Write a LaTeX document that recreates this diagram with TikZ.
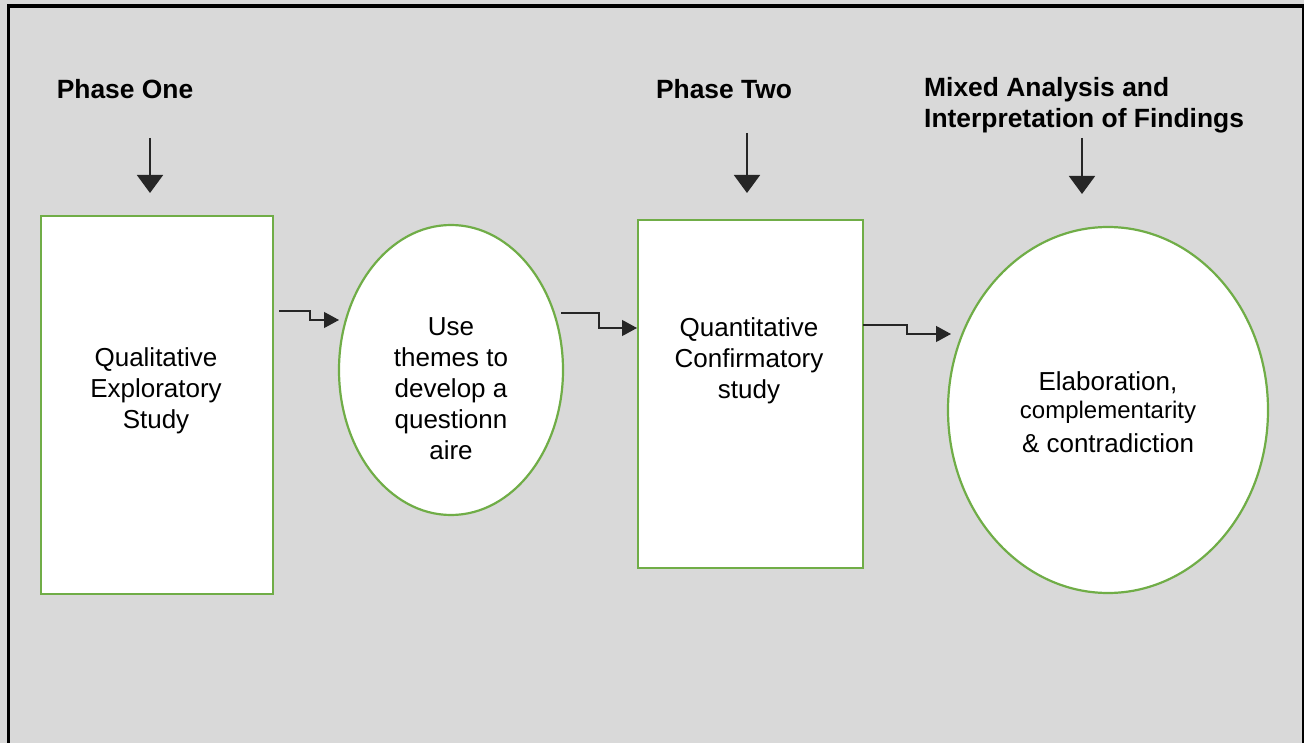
\documentclass[tikz,border=0pt]{standalone}
\usepackage{fontspec}
\setmainfont{Liberation Sans}
\usetikzlibrary{shapes.geometric,arrows.meta}
\definecolor{bg}{HTML}{D9D9D9}
\definecolor{grn}{HTML}{70AD47}
\definecolor{ink}{HTML}{262626}
\begin{document}
\begin{tikzpicture}[x=1pt,y=-1pt,
  box/.style={draw=grn, line width=2.2pt, fill=white, rectangle, inner sep=0pt, anchor=north west},
  oval/.style={draw=grn, line width=2.2pt, fill=white, ellipse, inner sep=0pt},
  body/.style={font=\fontsize{26}{31}\selectfont, align=center, text=black, inner sep=0pt},
  head/.style={font=\bfseries\fontsize{26.4}{31}\selectfont, text=black, inner sep=0pt},
  down/.style={draw=ink, line width=1.8pt, -{Triangle[length=18pt,width=26pt]}},
  link/.style={draw=ink, line width=1.2pt, -{Triangle[length=15pt,width=16pt]}}
]
\useasboundingbox (0,0) rectangle (1304,743);
\fill[bg] (0,0) rectangle (1304,743);
\draw[black, line width=3.2pt] (8.5,760) -- (8.5,6) -- (1303.5,6) -- (1303.5,760);

% headings
\node[head] (h1) at (125,89) {Phase One};
\node[head] (h2) at (724,89) {Phase Two};
\node[head, align=left, anchor=west] (h3) at (924,105) {Mixed Analysis and\\Interpretation of Findings};

% shapes
\node[box, minimum width=232pt, minimum height=378pt] (r1) at (40,215) {};
\node[oval, minimum width=224pt, minimum height=290pt] (e1) at (451,370) {};
\node[box, minimum width=225pt, minimum height=348pt] (r2) at (637,219) {};
\node[oval, minimum width=320pt, minimum height=366pt] (e2) at (1108,410) {};

% texts
\node[body] (t1) at (156,391) {Qualitative\\Exploratory\\Study};
\node[body] (t2) at (451,389) {Use\\themes to\\develop a\\questionn\\aire};
\node[body] (t3) at (749,361) {Quantitative\\Confirmatory\\study};
\node[body] (t4a) at (1108,383) {Elaboration,};
\node[body, font=\fontsize{24}{28}\selectfont] (t4b) at (1108,412) {complementarity};
\node[body] (t4c) at (1108,443) {\& contradiction};

% down arrows
\coordinate (d1) at (150,138); \coordinate (d1e) at (150,193);
\coordinate (d2) at (747,133); \coordinate (d2e) at (747,193);
\coordinate (d3) at (1082,138); \coordinate (d3e) at (1082,194);
\draw[down] (d1) -- (d1e);
\draw[down] (d2) -- (d2e);
\draw[down] (d3) -- (d3e);

% connectors
\coordinate (c1s) at (279,311); \coordinate (c1e) at (339,320);
\coordinate (c2s) at (561,313); \coordinate (c2e) at (637,328);
\coordinate (c3s) at (863,325); \coordinate (c3e) at (951,334);
\draw[link] (c1s) -- (310,311) -- (310,320) -- (c1e);
\draw[link] (c2s) -- (599,313) -- (599,328) -- (c2e);
\draw[link] (c3s) -- (907,325) -- (907,334) -- (c3e);
\end{tikzpicture}
\end{document}
